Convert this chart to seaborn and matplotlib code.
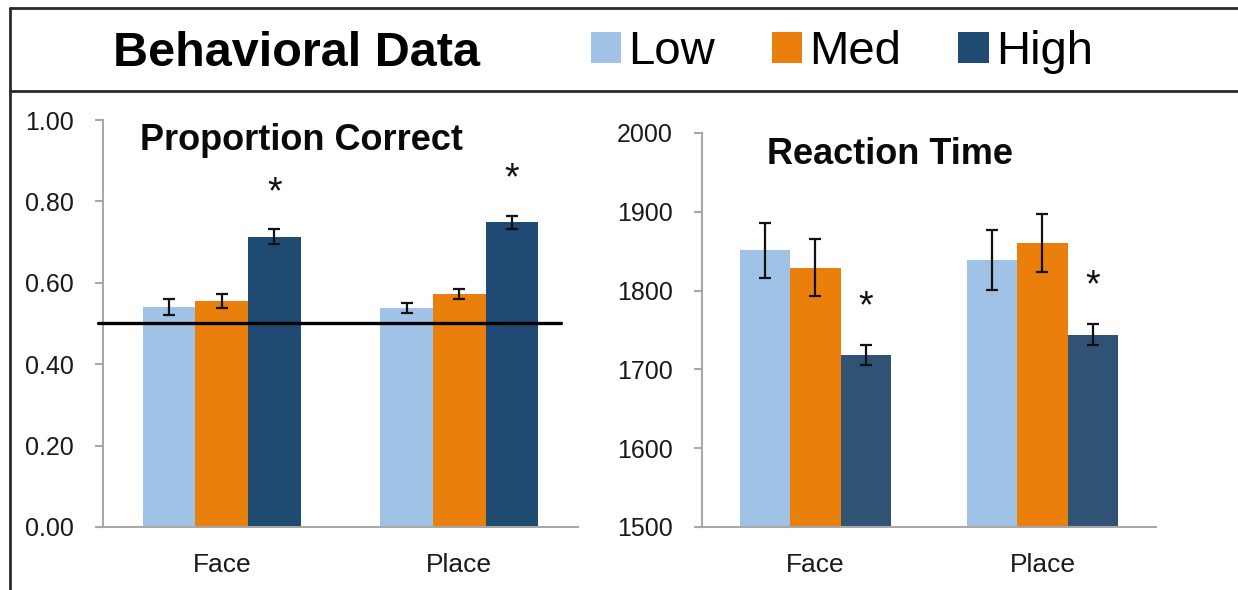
import numpy as np
import pandas as pd
import seaborn as sns
import matplotlib
matplotlib.use("Agg")
import matplotlib.pyplot as plt
from matplotlib.lines import Line2D

# ---- data -------------------------------------------------------------
categories = ["Face", "Place"]
levels = ["Low", "Med", "High"]

acc_low = [0.541, 0.538]
acc_med = [0.555, 0.572]
acc_high = [0.713, 0.749]
acc_low_err = [0.020, 0.013]
acc_med_err = [0.018, 0.013]
acc_high_err = [0.018, 0.016]
chance = 0.50

rt_low = [1851, 1839]
rt_med = [1829, 1860]
rt_high = [1718, 1744]
rt_low_err = [35, 38]
rt_med_err = [36, 37]
rt_high_err = [13, 13.5]

acc_ticks = [0.0, 0.2, 0.4, 0.6, 0.8, 1.0]
rt_ticks = [1500, 1600, 1700, 1800, 1900, 2000]

# ---- style ------------------------------------------------------------
sns.set_style("white")
plt.rcParams["font.family"] = ["Liberation Sans", "DejaVu Sans"]

pal_acc = {"Low": "#a0c2e6", "Med": "#ea7f0b", "High": "#1f4a72"}
pal_rt = {"Low": "#a0c2e6", "Med": "#ea7f0b", "High": "#2f5275"}
axis_grey = "#a8a8a8"
ink = "#111111"


def long_frame(low, med, high, low_e, med_e, high_e):
    rows = []
    for lev, vals, errs in zip(levels, [low, med, high], [low_e, med_e, high_e]):
        for cat, v, e in zip(categories, vals, errs):
            rows.append({"category": cat, "level": lev, "value": v, "err": e})
    return pd.DataFrame(rows)


df_acc = long_frame(acc_low, acc_med, acc_high, acc_low_err, acc_med_err, acc_high_err)
df_rt = long_frame(rt_low, rt_med, rt_high, rt_low_err, rt_med_err, rt_high_err)

fig = plt.figure(figsize=(12.38, 5.90), dpi=100)
ax1 = fig.add_axes([0.0832, 0.1068, 0.3837, 0.6898])
ax2 = fig.add_axes([0.5670, 0.1068, 0.3667, 0.6678])


def draw_panel(ax, df, pal, ylim, ticks, fmt, title, title_xy, star_offset):
    sns.barplot(data=df, x="category", y="value", hue="level",
                order=categories, hue_order=levels, palette=pal,
                width=0.665, gap=0, errorbar=None, saturation=1,
                linewidth=0, ax=ax)
    handles, labels = ax.get_legend_handles_labels()
    if ax.get_legend() is not None:
        ax.get_legend().remove()

    # error bars and significance stars drawn on the bar centres
    for lev, cont in zip(levels, ax.containers):
        sub = df[df["level"] == lev].set_index("category").loc[categories]
        xs = [p.get_x() + p.get_width() / 2 for p in cont.patches]
        ax.errorbar(xs, sub["value"], yerr=sub["err"], fmt="none",
                    ecolor=ink, elinewidth=1.6, capsize=4.6,
                    capthick=1.6, zorder=4)
        if lev == "High":
            for x, v, e in zip(xs, sub["value"], sub["err"]):
                ax.text(x, v + e + star_offset, "*", ha="center",
                        va="center", fontsize=27, color=ink)

    ax.set_xlim(-0.5, 1.5)
    ax.set_ylim(*ylim)
    ax.set_yticks(ticks)
    ax.set_yticklabels([fmt(t) for t in ticks])
    ax.set_xticks([0, 1])
    ax.set_xticklabels(categories)
    ax.set_xticks([-0.5, 0.5, 1.5], minor=True)
    ax.set_xlabel("")
    ax.set_ylabel("")
    ax.tick_params(axis="x", which="major", length=0, labelsize=19,
                   pad=19, labelcolor="#1a1a1a")
    ax.tick_params(axis="x", which="minor", length=7, width=1.5,
                   color=axis_grey, direction="out")
    ax.tick_params(axis="y", length=6, width=1.5, color=axis_grey,
                   direction="out", labelsize=18, pad=15,
                   labelcolor="#1a1a1a", left=True)
    sns.despine(ax=ax)
    for side in ("left", "bottom"):
        ax.spines[side].set_color(axis_grey)
        ax.spines[side].set_linewidth(1.5)
    ax.text(title_xy[0], title_xy[1], title, transform=ax.transAxes,
            ha="left", va="center", fontsize=26, fontweight="bold",
            color="#0a0a0a")
    return handles, labels


handles, labels = draw_panel(ax1, df_acc, pal_acc, (0, 1.0), acc_ticks,
                             lambda t: f"{t:.2f}", "Proportion Correct",
                             (0.078, 0.95), 0.09)
draw_panel(ax2, df_rt, pal_rt, (1500, 2000), rt_ticks,
           lambda t: f"{t:d}", "Reaction Time", (0.143, 0.945), 48)

# chance-level reference line
ax1.plot([-0.52, 1.43], [chance, chance], color="black", lw=2.4,
         clip_on=False, zorder=5)

# ---- header band --------------------------------------------------------
frame_kw = dict(color="#2a2a2a", lw=2.0, transform=fig.transFigure)
fig.add_artist(Line2D([0.0077, 1.0], [0.9864, 0.9864], **frame_kw))
fig.add_artist(Line2D([0.0077, 1.0], [0.8458, 0.8458], **frame_kw))
fig.add_artist(Line2D([0.0077, 0.0077], [0.0, 0.9864], **frame_kw))

fig.text(0.0913, 0.909, "Behavioral Data", ha="left", va="center",
         fontsize=35, fontweight="bold", color="black")
fig.legend(handles, labels, loc="center left",
           bbox_to_anchor=(0.477, 0.912), ncol=3, frameon=False,
           fontsize=34, handlelength=0.65, handleheight=0.65,
           handletextpad=0.15, columnspacing=1.2, borderpad=0,
           borderaxespad=0, labelcolor="black")

fig.savefig("out.png", dpi=100)
